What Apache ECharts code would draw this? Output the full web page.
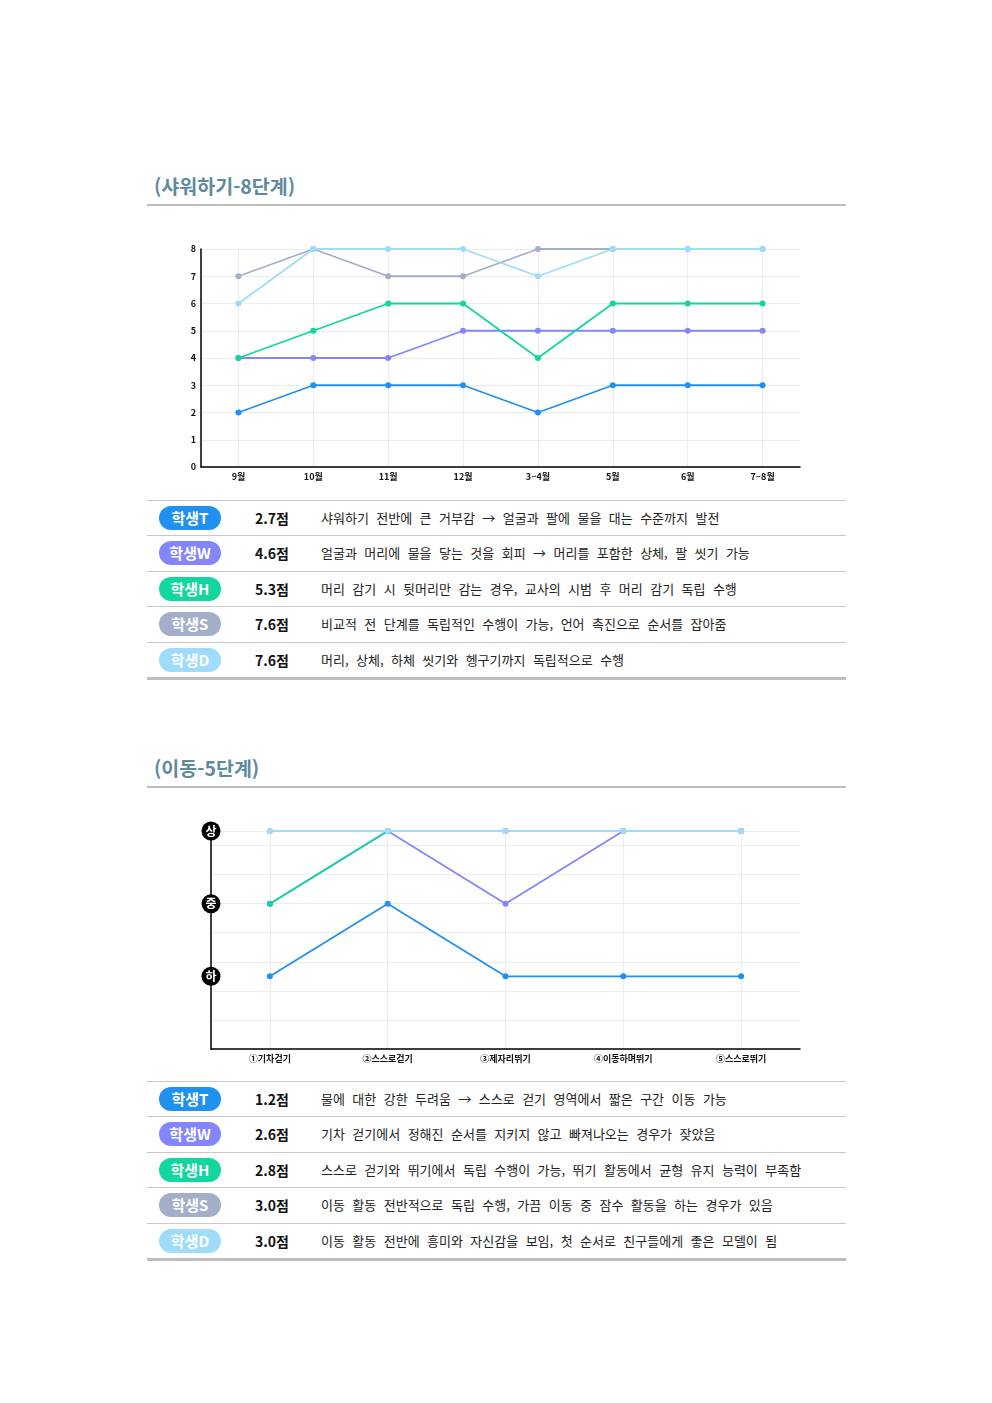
<!DOCTYPE html>
<html lang="ko">
<head>
<meta charset="utf-8">
<title>샤워하기 / 이동</title>
<script src="https://cdn.jsdelivr.net/npm/echarts@6/dist/echarts.min.js"></script>
<style>
    body { margin: 0; background: #fff; font-family: "Noto Sans CJK KR", "Noto Sans", sans-serif; }
    .page { position: relative; width: 992px; height: 1403px; }
    .title { position: absolute; left: 154px; font-size: 19.5px; font-weight: bold; color: #5e8b9b; line-height: 24px; }
    .rule { position: absolute; left: 147px; width: 699px; height: 2px; background: #bdbdbd; }
    .chart { position: absolute; left: 147px; width: 699px; }
    .table { position: absolute; left: 147px; width: 699px; border-top: 1px solid #c8c8c8; border-bottom: 3px solid #bdbdbd; }
    .row { position: relative; height: 34.4px; border-top: 1px solid #c8c8c8; }
    .row:first-child { border-top: none; }
    .badge { position: absolute; left: 12px; top: 5px; width: 62px; height: 24px; border-radius: 12px;
             color: #fff; font-weight: bold; font-size: 15px; text-align: center; line-height: 24px; }
    .score { position: absolute; left: 108px; top: 0; line-height: 34px; font-weight: bold; font-size: 14px; color: #111; }
    .desc { position: absolute; left: 174px; top: 0; line-height: 34px; font-size: 13px; color: #222; word-spacing: 3.8px; white-space: nowrap; }
</style>
</head>
<body>
<div class="page">
    <div class="title" style="top:174px">(샤워하기-8단계)</div>
    <div class="rule" style="top:204px"></div>
    <div id="chart1" class="chart" style="top:230px;height:260px"></div>
    <div id="table1" class="table" style="top:500px"></div>

    <div class="title" style="top:756px">(이동-5단계)</div>
    <div class="rule" style="top:786px"></div>
    <div id="chart2" class="chart" style="top:800px;height:275px"></div>
    <div id="table2" class="table" style="top:1081px"></div>
</div>
<script>
// --- 학생 / 색상 ---
const students = ['학생T', '학생W', '학생H', '학생S', '학생D'];
const colors = ['#2191f0', '#8585ff', '#12d6a0', '#a3aec8', '#9edcfa'];

// --- 샤워하기 (8단계) ---
const showerMonths = ['9월', '10월', '11월', '12월', '3~4월', '5월', '6월', '7~8월'];
const showerT = [2, 3, 3, 3, 2, 3, 3, 3];
const showerW = [4, 4, 4, 5, 5, 5, 5, 5];
const showerH = [4, 5, 6, 6, 4, 6, 6, 6];
const showerS = [7, 8, 7, 7, 8, 8, 8, 8];
const showerD = [6, 8, 8, 8, 7, 8, 8, 8];
const showerScores = ['2.7점', '4.6점', '5.3점', '7.6점', '7.6점'];
const showerNotes = [
    '샤워하기 전반에 큰 거부감 → 얼굴과 팔에 물을 대는 수준까지 발전',
    '얼굴과 머리에 물을 닿는 것을 회피 → 머리를 포함한 상체, 팔 씻기 가능',
    '머리 감기 시 뒷머리만 감는 경우, 교사의 시범 후 머리 감기 독립 수행',
    '비교적 전 단계를 독립적인 수행이 가능, 언어 촉진으로 순서를 잡아줌',
    '머리, 상체, 하체 씻기와 헹구기까지 독립적으로 수행'
];

// --- 이동 (5단계) : 1=하, 2=중, 3=상 ---
const moveSteps = ['①기차걷기', '②스스로걷기', '③제자리뛰기', '④이동하며뛰기', '⑤스스로뛰기'];
const moveT = [1, 2, 1, 1, 1];
const moveW = [2, 3, 2, 3, 3];
const moveH = [2, 3, 3, 3, 3];
const moveS = [3, 3, 3, 3, 3];
const moveD = [3, 3, 3, 3, 3];
const levelLabels = ['', '하', '중', '상'];
const moveScores = ['1.2점', '2.6점', '2.8점', '3.0점', '3.0점'];
const moveNotes = [
    '물에 대한 강한 두려움 → 스스로 걷기 영역에서 짧은 구간 이동 가능',
    '기차 걷기에서 정해진 순서를 지키지 않고 빠져나오는 경우가 잦았음',
    '스스로 걷기와 뛰기에서 독립 수행이 가능, 뛰기 활동에서 균형 유지 능력이 부족함',
    '이동 활동 전반적으로 독립 수행, 가끔 이동 중 잠수 활동을 하는 경우가 있음',
    '이동 활동 전반에 흥미와 자신감을 보임, 첫 순서로 친구들에게 좋은 모델이 됨'
];

const gridLine = { show: true, lineStyle: { color: '#ececec', width: 1 } };
const labelFont = { fontFamily: '"Noto Sans CJK KR", sans-serif', fontWeight: 'bold', color: '#111', fontSize: 9 };

const makeSeries = (list) => list.map((data, i) => ({
    name: students[i],
    type: 'line',
    data: data,
    symbol: 'circle',
    symbolSize: 6,
    color: colors[i],
    lineStyle: { width: 1.8 },
    z: 2 + i
}));

// --- 차트 1 ---
const chart1 = echarts.init(document.getElementById('chart1'));
chart1.setOption({
    animation: false,
    grid: { left: 54, right: 46, top: 19, bottom: 23 },
    xAxis: {
        type: 'category',
        data: showerMonths,
        axisLine: { lineStyle: { color: '#000', width: 1.5 } },
        axisTick: { show: false },
        axisLabel: { ...labelFont, margin: 5 },
        splitLine: { ...gridLine, alignWithLabel: true }
    },
    yAxis: {
        type: 'value',
        min: 0, max: 8, interval: 1,
        axisLine: { show: true, lineStyle: { color: '#000', width: 1.5 } },
        axisTick: { show: false },
        axisLabel: { ...labelFont, margin: 5 },
        splitLine: gridLine
    },
    series: makeSeries([showerT, showerW, showerH, showerS, showerD])
});

// --- 차트 2 ---
const chart2 = echarts.init(document.getElementById('chart2'));
chart2.setOption({
    animation: false,
    grid: { left: 64, right: 46, top: 31, bottom: 26 },
    xAxis: {
        type: 'category',
        data: moveSteps,
        axisLine: { lineStyle: { color: '#000', width: 1.5 } },
        axisTick: { show: false },
        axisLabel: { ...labelFont, margin: 5 },
        splitLine: { ...gridLine, alignWithLabel: true }
    },
    yAxis: [{
        type: 'value',
        min: 0, max: 3, interval: 0.4,
        axisLine: { show: true, lineStyle: { color: '#000', width: 1.5 } },
        axisTick: { show: false },
        axisLabel: { show: false },
        splitLine: gridLine
    }, {
        type: 'value',
        position: 'left',
        min: 0, max: 3, interval: 1,
        axisLine: { show: false },
        axisTick: { show: false },
        splitLine: { show: false },
        axisLabel: {
            margin: 0,
            align: 'center',
            formatter: (v) => levelLabels[v] ? `{c|${levelLabels[v]}}` : '',
            rich: {
                c: {
                    backgroundColor: '#000', color: '#fff', borderRadius: 10,
                    width: 19, height: 19, lineHeight: 19, align: 'center',
                    fontSize: 12, fontWeight: 'bold', fontFamily: '"Noto Sans CJK KR", sans-serif'
                }
            }
        }
    }],
    series: makeSeries([moveT, moveW, moveH, moveS, moveD])
});

// --- 표 ---
const renderTable = (id, scores, notes) => {
    const table = document.getElementById(id);
    table.innerHTML = students.map((name, i) => `
        <div class="row">
            <div class="badge" style="background:${colors[i]}">${name}</div>
            <div class="score">${scores[i]}</div>
            <div class="desc">${notes[i]}</div>
        </div>`).join('');
};
renderTable('table1', showerScores, showerNotes);
renderTable('table2', moveScores, moveNotes);
</script>
</body>
</html>
